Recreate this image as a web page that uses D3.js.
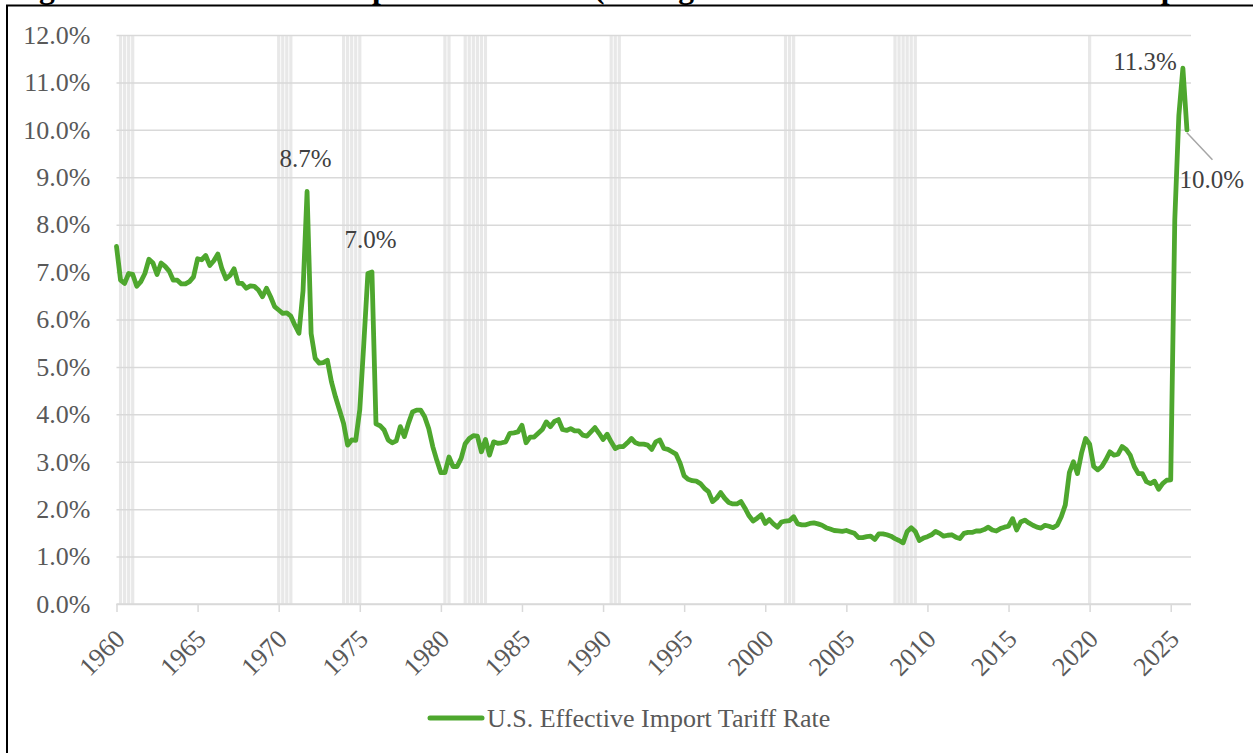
<!DOCTYPE html>
<html>
<head>
<meta charset="utf-8">
<script src="https://cdn.jsdelivr.net/npm/d3@7"></script>
<style>
  html, body { margin: 0; padding: 0; background: #fff; }
  svg { display: block; }
  text { font-family: "Liberation Serif", "Times New Roman", serif; }
</style>
</head>
<body>
<div id="chart"></div>
<script>
// ── Data: quarterly effective import tariff rate (%), 1960Q1 → 2026Q1 ──
const START_YEAR = 1960;
const rate = [
  7.54, 6.83, 6.76, 6.97, 6.95, 6.70, 6.80, 6.97, 7.27, 7.19,
  6.95, 7.19, 7.12, 7.02, 6.83, 6.83, 6.75, 6.75, 6.80, 6.90,
  7.28, 7.26, 7.35, 7.14, 7.24, 7.38, 7.07, 6.86, 6.93, 7.07,
  6.76, 6.76, 6.66, 6.71, 6.70, 6.62, 6.48, 6.66, 6.48, 6.27,
  6.20, 6.13, 6.14, 6.07, 5.88, 5.71, 6.60, 8.70, 5.70, 5.18,
  5.08, 5.09, 5.14, 4.69, 4.37, 4.09, 3.81, 3.35, 3.46, 3.45,
  4.10, 5.50, 6.97, 7.00, 3.80, 3.76, 3.67, 3.46, 3.40, 3.44,
  3.74, 3.53, 3.81, 4.05, 4.09, 4.09, 3.95, 3.70, 3.32, 3.03,
  2.77, 2.77, 3.10, 2.90, 2.90, 3.07, 3.38, 3.49, 3.55, 3.54,
  3.21, 3.47, 3.14, 3.42, 3.39, 3.40, 3.42, 3.60, 3.61, 3.63,
  3.77, 3.40, 3.52, 3.52, 3.60, 3.68, 3.84, 3.74, 3.85, 3.89,
  3.68, 3.66, 3.70, 3.65, 3.65, 3.56, 3.54, 3.63, 3.72, 3.60,
  3.47, 3.58, 3.42, 3.28, 3.32, 3.32, 3.40, 3.49, 3.40, 3.37,
  3.37, 3.35, 3.26, 3.42, 3.46, 3.28, 3.26, 3.21, 3.16, 2.97,
  2.70, 2.63, 2.60, 2.59, 2.54, 2.44, 2.37, 2.16, 2.23, 2.35,
  2.23, 2.14, 2.11, 2.11, 2.16, 2.02, 1.86, 1.75, 1.81, 1.88,
  1.70, 1.78, 1.69, 1.62, 1.73, 1.75, 1.76, 1.84, 1.69, 1.67,
  1.67, 1.70, 1.71, 1.69, 1.66, 1.61, 1.58, 1.55, 1.54, 1.53,
  1.55, 1.52, 1.49, 1.40, 1.40, 1.42, 1.43, 1.36, 1.48, 1.48,
  1.46, 1.43, 1.38, 1.34, 1.29, 1.53, 1.61, 1.53, 1.34, 1.39,
  1.42, 1.46, 1.53, 1.49, 1.43, 1.45, 1.46, 1.41, 1.38, 1.49,
  1.51, 1.51, 1.54, 1.54, 1.57, 1.62, 1.56, 1.54, 1.59, 1.62,
  1.64, 1.80, 1.56, 1.73, 1.77, 1.71, 1.66, 1.62, 1.60, 1.66,
  1.64, 1.61, 1.66, 1.84, 2.09, 2.77, 3.00, 2.75, 3.18, 3.49,
  3.37, 2.90, 2.83, 2.90, 3.04, 3.21, 3.14, 3.16, 3.32, 3.26,
  3.14, 2.90, 2.75, 2.75, 2.58, 2.54, 2.59, 2.42, 2.54, 2.61,
  2.62, 8.10, 10.30, 11.30, 10.00
];

// NBER recessions, as [first quarter, last quarter]
const recessions = [
  ['1960Q2', '1961Q1'], ['1970Q1', '1970Q4'], ['1974Q1', '1975Q1'],
  ['1980Q2', '1980Q3'], ['1981Q3', '1982Q4'], ['1990Q3', '1991Q1'],
  ['2001Q2', '2001Q4'], ['2008Q1', '2009Q2'], ['2020Q1', '2020Q1']
];

const yTicks = [0, 1, 2, 3, 4, 5, 6, 7, 8, 9, 10, 11, 12];
const xTickYears = d3.range(1960, 2026, 5);
const labelled = ['1971Q4', '1975Q4', '2025Q4', '2026Q1'];   // data labels
const seriesName = 'U.S. Effective Import Tariff Rate';
const title = 'Figure 1: U.S. Effective Import Tariff Rate (Change in Customs Duties Relative to Import Weights)';

// ── Helpers ─────────────────────────────────────────────────────────
const qIndex = s => (+s.slice(0, 4) - START_YEAR) * 4 + (+s.slice(5) - 1);
const points = rate.map((v, k) => ({ t: START_YEAR + k / 4, v, k }));

// ── Layout ──────────────────────────────────────────────────────────
const W = 1253, H = 753;
const M = { left: 116.5, right: 1191, top: 35, bottom: 604 };
const GREEN = '#4ea72e', GRID = '#d9d9d9', LABEL = '#595959';
const SERIF = '"Liberation Serif", "Times New Roman", serif';

const x = d3.scaleLinear().domain([START_YEAR, 2026.25]).range([M.left, M.right]);
const y = d3.scaleLinear().domain([0, 12]).range([M.bottom, M.top]);

const svg = d3.select('#chart').append('svg')
  .attr('width', W).attr('height', H)
  .attr('viewBox', `0 0 ${W} ${H}`);

svg.append('rect').attr('width', W).attr('height', H).attr('fill', '#fff');

// ── Title (cut off at top of the frame, as in the source) & frame ───
svg.append('text')
  .attr('x', 11).attr('y', -2)
  .attr('font-size', 31.6).attr('font-weight', 'bold').attr('fill', '#000')
  .text(title);

svg.append('line').attr('x1', 6).attr('x2', W).attr('y1', 5.5).attr('y2', 5.5)
  .attr('stroke', '#000').attr('stroke-width', 2);
svg.append('line').attr('x1', 7).attr('x2', 7).attr('y1', 5).attr('y2', H)
  .attr('stroke', '#000').attr('stroke-width', 2);

// ── Recession shading ───────────────────────────────────────────────
const recQ = recessions.flatMap(([a, b]) => d3.range(qIndex(a), qIndex(b) + 1));
svg.append('g').selectAll('rect').data(recQ).join('rect')
  .attr('x', k => x(START_YEAR + k / 4) - 1.6)
  .attr('width', 3.2)
  .attr('y', M.top).attr('height', M.bottom - M.top)
  .attr('fill', '#e8e8e8');

// ── Gridlines + y labels ────────────────────────────────────────────
const gGrid = svg.append('g').attr('transform', `translate(${M.left},0)`)
  .call(d3.axisLeft(y).tickValues(yTicks).tickSize(-(M.right - M.left)).tickFormat(''));
gGrid.select('.domain').remove();
gGrid.selectAll('line').attr('stroke', GRID).attr('stroke-width', 1.5);

const gY = svg.append('g').attr('transform', `translate(${M.left},0)`)
  .call(d3.axisLeft(y).tickValues(yTicks).tickSize(0).tickPadding(26)
    .tickFormat(d => d3.format('.1%')(d / 100)));
gY.select('.domain').remove();
gY.selectAll('text')
  .attr('font-size', 26).attr('fill', LABEL).attr('font-family', SERIF);

// ── X axis ──────────────────────────────────────────────────────────
const gX = svg.append('g').attr('transform', `translate(0,${M.bottom})`)
  .call(d3.axisBottom(x).tickValues(xTickYears).tickSize(8).tickFormat(d3.format('d')));
gX.select('.domain').attr('stroke', GRID).attr('stroke-width', 1.5)
  .attr('d', `M${M.left},0H${M.right}`);
gX.selectAll('line').attr('stroke', GRID).attr('stroke-width', 1.5);
gX.selectAll('text')
  .attr('font-size', 26).attr('fill', LABEL).attr('font-family', SERIF)
  .attr('text-anchor', 'end')
  .attr('y', 0).attr('dy', '0.35em')
  .attr('transform', 'translate(3,30) rotate(-45)');

// ── Series line ─────────────────────────────────────────────────────
const line = d3.line().x(d => x(d.t)).y(d => y(d.v));
svg.append('path').datum(points)
  .attr('d', line)
  .attr('fill', 'none').attr('stroke', GREEN).attr('stroke-width', 4.8)
  .attr('stroke-linejoin', 'round').attr('stroke-linecap', 'round');

// ── Data labels ─────────────────────────────────────────────────────
const pt = s => points[qIndex(s)];
const fmt = d => d.v.toFixed(1) + '%';
const gLab = svg.append('g').attr('font-size', 25).attr('fill', '#404040');

[pt(labelled[0]), pt(labelled[1])].forEach(d => {
  gLab.append('text')
    .attr('x', x(d.t) - 1.5).attr('y', y(d.v) - 24.5)
    .attr('text-anchor', 'middle').text(fmt(d));
});

const peak = pt(labelled[2]);
gLab.append('text')
  .attr('x', x(peak.t) - 6).attr('y', y(peak.v) + 1.5)
  .attr('text-anchor', 'end').text(fmt(peak));

const last = pt(labelled[3]);
svg.append('line')
  .attr('x1', x(last.t)).attr('y1', y(last.v) + 3)
  .attr('x2', x(last.t) + 25.5).attr('y2', y(last.v) + 30)
  .attr('stroke', '#a6a6a6').attr('stroke-width', 1.5);
gLab.append('text')
  .attr('x', x(last.t) - 7.5).attr('y', y(last.v) + 58)
  .attr('text-anchor', 'start').text(fmt(last));

// ── Legend ──────────────────────────────────────────────────────────
const leg = svg.append('g').attr('transform', 'translate(430,718)');
leg.append('line').attr('x1', 0).attr('x2', 52)
  .attr('stroke', GREEN).attr('stroke-width', 5).attr('stroke-linecap', 'round');
leg.append('text').attr('x', 57).attr('dy', '0.35em')
  .attr('font-size', 26).attr('fill', LABEL)
  .text(seriesName);
</script>
</body>
</html>
